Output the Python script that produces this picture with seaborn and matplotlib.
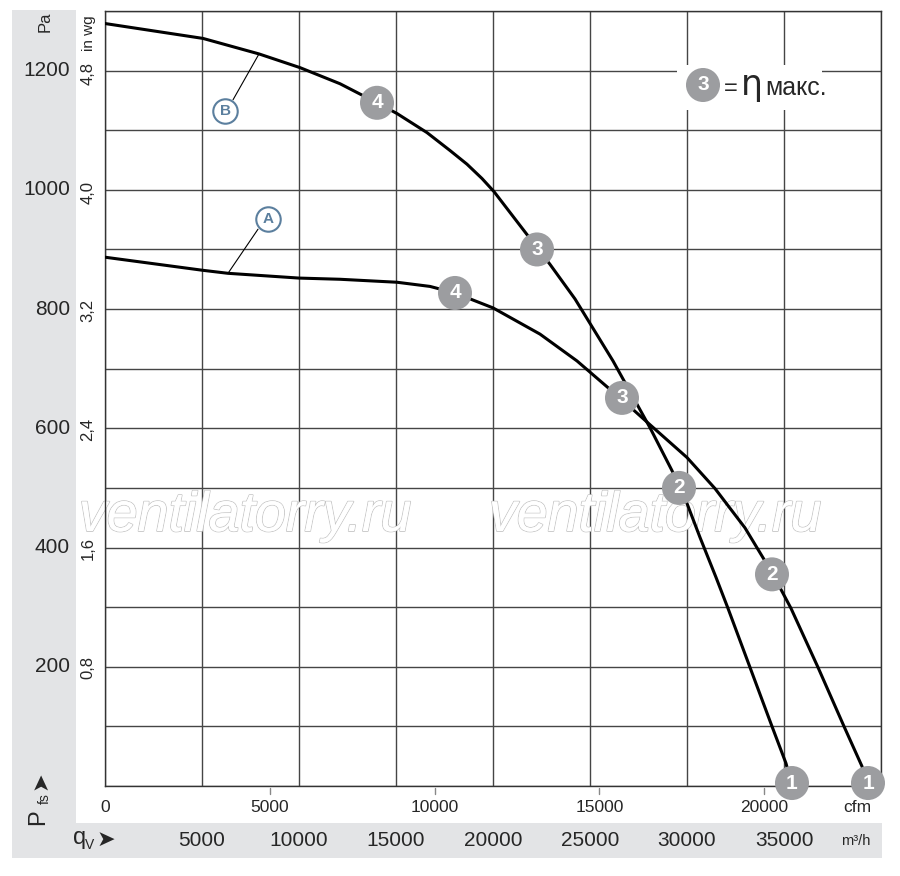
import numpy as np
import pandas as pd
import matplotlib
matplotlib.use("Agg")
import matplotlib.pyplot as plt
import seaborn as sns
from matplotlib import transforms, patheffects
from matplotlib.patches import Rectangle

# ---------------- data (flow in m3/h, pressure in Pa) ----------------
b_flow = [0, 5052, 7938, 10052, 12113, 14021, 15052, 16598, 17783, 18660, 19433,
          20052, 21752, 22938, 24227, 26186, 28093, 29227, 30000, 30670,
          31495, 32113, 33247, 34381, 35103, 35412]
b_pressure = [1279, 1254, 1228, 1205, 1178, 1146, 1128, 1096, 1066, 1043, 1019,
              997, 925, 875, 817, 713, 601, 529, 474, 417,
              350, 298, 199, 100, 38, 0]

a_flow = [0, 5052, 6340, 10000, 12113, 15052, 16753, 18041, 20000, 22423, 24330,
          26649, 28093, 30000, 31443, 32989, 34381, 35361, 36753,
          38093, 39020, 39330]
a_pressure = [887, 865, 860, 852, 850, 845, 838, 827, 802, 758, 713,
              648, 606, 551, 499, 433, 358, 298, 199,
              100, 33, 0]

b_point_flow = [14021, 22268, 29588, 35412]
b_point_pressure = [1146, 900, 500, 5]
a_point_flow = [18041, 26649, 34381, 39330]
a_point_pressure = [827, 651, 355, 5]
point_labels = ["4", "3", "2", "1"]

pa_ticks = [200, 400, 600, 800, 1000, 1200]
inwg_ticks = [0.8, 1.6, 2.4, 3.2, 4.0, 4.8]
inwg_labels = ["0,8", "1,6", "2,4", "3,2", "4,0", "4,8"]
cfm_ticks = [0, 5000, 10000, 15000, 20000]
m3h_ticks = [5000, 10000, 15000, 20000, 25000, 30000, 35000]

PA_PER_INWG = 249.089
M3H_PER_CFM = 1.699011

# ---------------- style ----------------
sns.set_theme(style="white")
FONTS = ["Liberation Sans Narrow", "Liberation Sans", "DejaVu Sans"]
plt.rcParams["font.family"] = FONTS

W, H = 900, 876
fig = plt.figure(figsize=(9, 8.76), dpi=100)
fig.patch.set_facecolor("white")

def fx(px):
    return px / W

def fy(py):
    return 1 - py / H

band = "#e3e4e6"
fig.patches.append(Rectangle((fx(12), fy(858)), fx(76) - fx(12), fy(10) - fy(858),
                             transform=fig.transFigure, facecolor=band, edgecolor="none", zorder=0))
fig.patches.append(Rectangle((fx(12), fy(858)), fx(882) - fx(12), fy(823) - fy(858),
                             transform=fig.transFigure, facecolor=band, edgecolor="none", zorder=0))

ax = fig.add_axes([fx(105), fy(786), fx(881) - fx(105), (786 - 11) / H])
ax.set_xlim(0, 40000)
ax.set_ylim(0, 1300)
ax.set_xticks(np.arange(0, 40001, 5000))
ax.set_yticks(np.arange(0, 1301, 100))
ax.tick_params(length=0, labelbottom=False, labelleft=False)
ax.set_axisbelow(True)
ax.grid(True, color="#454545", lw=1.0)
for s in ax.spines.values():
    s.set_color("#333333")
    s.set_linewidth(1.0)

# ---------------- watermark ----------------
for cx in (245, 655):
    ax.text(fx(cx), fy(517), "ventilatorry.ru", transform=fig.transFigure,
            ha="center", va="center", fontsize=40, style="italic",
            family=["Liberation Sans", "DejaVu Sans"], color="white", zorder=1.5,
            path_effects=[patheffects.withStroke(linewidth=1.2, foreground="#c4c4c4"),
                          patheffects.Normal()])

# ---------------- curves ----------------
df = pd.DataFrame({
    "flow": a_flow + b_flow,
    "pressure": a_pressure + b_pressure,
    "curve": ["A"] * len(a_flow) + ["B"] * len(b_flow),
})
sns.lineplot(data=df, x="flow", y="pressure", units="curve", estimator=None, sort=False,
             color="black", lw=2.2, ax=ax, legend=False, zorder=3)

# operating point markers
pts = pd.DataFrame({
    "flow": b_point_flow + a_point_flow,
    "pressure": b_point_pressure + a_point_pressure,
    "label": point_labels + point_labels,
})
sns.scatterplot(data=pts, x="flow", y="pressure", s=600, color="#9c9da0",
                edgecolor="none", ax=ax, zorder=6, clip_on=False, legend=False)
for _, r in pts.iterrows():
    ax.text(r["flow"], r["pressure"], r["label"], ha="center", va="center",
            color="white", fontsize=15, fontweight="bold", zorder=7, clip_on=False)
ax.set_xlabel("")
ax.set_ylabel("")

# curve identifiers A / B with leader lines
blue = "#5b7f9e"
for name, circ, edge, on_curve in [("B", (6186, 1133), (6598, 1151), (7938, 1228)),
                                   ("A", (8402, 951), (7887, 934), (6340, 860))]:
    ax.plot([edge[0], on_curve[0]], [edge[1], on_curve[1]], color="black", lw=0.8, zorder=4)
    ax.scatter([circ[0]], [circ[1]], s=310, facecolor="white", edgecolor=blue,
               linewidth=1.5, zorder=5)
    ax.text(circ[0], circ[1], name, ha="center", va="center", color=blue,
            fontsize=11, fontweight="bold", zorder=6)

# eta max legend
ax.add_patch(Rectangle(((677 - 105) / 776, (786 - 110) / 775),
                       (822 - 677) / 776, 45 / 775, transform=ax.transAxes,
                       facecolor="white", edgecolor="none", zorder=1))
ax.scatter([(703 - 105) / 776], [(786 - 85) / 775], s=600, color="#9c9da0",
           edgecolor="none", transform=ax.transAxes, zorder=6)
ax.text((703 - 105) / 776, (786 - 85) / 775, "3", transform=ax.transAxes, ha="center",
        va="center", color="white", fontsize=15, fontweight="bold", zorder=7)
fig.text(fx(731), fy(95), "=", ha="center", va="baseline", fontsize=17,
         family=["Liberation Sans", "DejaVu Sans"])
fig.text(fx(752), fy(95), "\u03b7", ha="center", va="baseline", fontsize=25,
         family=["DejaVu Sans"])
fig.text(fx(765), fy(95), "\u043c\u0430\u043a\u0441.", ha="left", va="baseline", fontsize=18,
         family=["Liberation Sans", "DejaVu Sans"])

# ---------------- axis labels ----------------
tr_fy = transforms.blended_transform_factory(fig.transFigure, ax.transData)
tr_xf = transforms.blended_transform_factory(ax.transData, fig.transFigure)

for v in pa_ticks:
    fig.text(fx(70), v, str(v), transform=tr_fy, ha="right", va="center", fontsize=15)
fig.text(fx(45), fy(22), "Pa", rotation=90, ha="center", va="center", fontsize=12)

for v, lab in zip(inwg_ticks, inwg_labels):
    fig.text(fx(88), v * PA_PER_INWG, lab, transform=tr_fy, rotation=90,
             ha="center", va="center", fontsize=12)
fig.text(fx(89), fy(33), "in wg", rotation=90, ha="center", va="center", fontsize=11)

for v in cfm_ticks:
    fig.text(v * M3H_PER_CFM, fy(807), str(v), transform=tr_xf, ha="center",
             va="center", fontsize=12.5)
    if v > 0:
        ax.plot([v * M3H_PER_CFM] * 2, [-2 / 775, -8 / 775],
                transform=transforms.blended_transform_factory(ax.transData, ax.transAxes),
                color="#888888", lw=1, clip_on=False)
fig.text(fx(857), fy(807), "cfm", ha="center", va="center", fontsize=12.5)

for v in m3h_ticks:
    fig.text(v, fy(841), str(v), transform=tr_xf, ha="center", va="center", fontsize=15)
fig.text(fx(856), fy(841), "m\u00b3/h", ha="center", va="center", fontsize=10.5)

fig.text(fx(80), fy(838), "q", ha="center", va="center", fontsize=17)
fig.text(fx(90), fy(845), "V", ha="center", va="center", fontsize=10)
fig.text(fx(106), fy(840), "\u27a4", ha="center", va="center", fontsize=16,
         family=["DejaVu Sans"])

fig.text(fx(38), fy(817), "P", rotation=90, ha="center", va="center", fontsize=17)
fig.text(fx(45), fy(799), "fs", rotation=90, ha="center", va="center", fontsize=10)
fig.text(fx(40), fy(781), "\u27a4", rotation=90, ha="center", va="center", fontsize=16,
         family=["DejaVu Sans"])

fig.savefig("out.png", dpi=100, facecolor="white")
